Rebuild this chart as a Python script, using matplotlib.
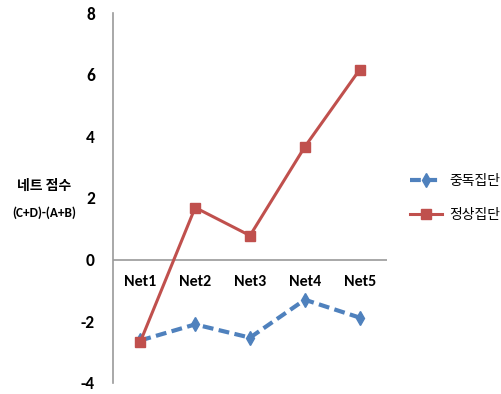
import matplotlib
matplotlib.use("Agg")
import matplotlib.pyplot as plt

categories = ["Net1", "Net2", "Net3", "Net4", "Net5"]
addict = [-2.62, -2.1, -2.53, -1.3, -1.88]
normal = [-2.66, 1.69, 0.78, 3.66, 6.16]
series_names = ["중독집단", "정상집단"]
yticks = [-4, -2, 0, 2, 4, 6, 8]

plt.rcParams['font.family'] = ['Carlito', 'Noto Sans CJK JP', 'DejaVu Sans']
kr = ['Noto Sans CJK JP', 'Noto Sans CJK KR', 'DejaVu Sans']

fig = plt.figure(figsize=(5.02, 3.94), dpi=100)
ax = fig.add_axes([0.225, 0.028, 0.546, 0.939])
x = list(range(len(categories)))
ax.plot(x, addict, color="#4F81BD", lw=3, ls=(0, (2.6, 1.3)), marker="d", ms=7,
        label=series_names[0], zorder=3)
ax.plot(x, normal, color="#C0504D", lw=2.2, marker="s", ms=7, label=series_names[1], zorder=3)
ax.axhline(0, color="#9a9a9a", lw=1.2, zorder=1)
ax.set_xlim(-0.5, 4.5)
ax.set_ylim(-4, 8)
ax.set_yticks(yticks)
ax.set_yticklabels([str(v) for v in yticks], fontsize=12.5, fontweight="bold")
ax.tick_params(axis="y", length=0, pad=13)
ax.set_xticks([])
for i, c in enumerate(categories):
    ax.text(i, -0.5, c, ha="center", va="top", fontsize=11.5, fontweight="bold")
for s in ["top", "right", "bottom"]:
    ax.spines[s].set_visible(False)
ax.spines["left"].set_color("#9a9a9a")
ax.spines["left"].set_linewidth(1.2)

fig.text(44 / 502, 1 - 186 / 394, "네트 점수", ha="center", va="center", fontsize=10,
         fontweight="bold", family=kr)
fig.text(44 / 502, 1 - 213 / 394, "(C+D)-(A+B)", ha="center", va="center", fontsize=9.5,
         fontweight="bold")

leg = fig.legend(loc="center left", bbox_to_anchor=(0.806, 0.497), frameon=False,
                 prop={'family': kr, 'size': 10},
                 handlelength=2.3, labelspacing=1.45, handletextpad=0.5, borderaxespad=0)

fig.savefig("out.png", dpi=100)
